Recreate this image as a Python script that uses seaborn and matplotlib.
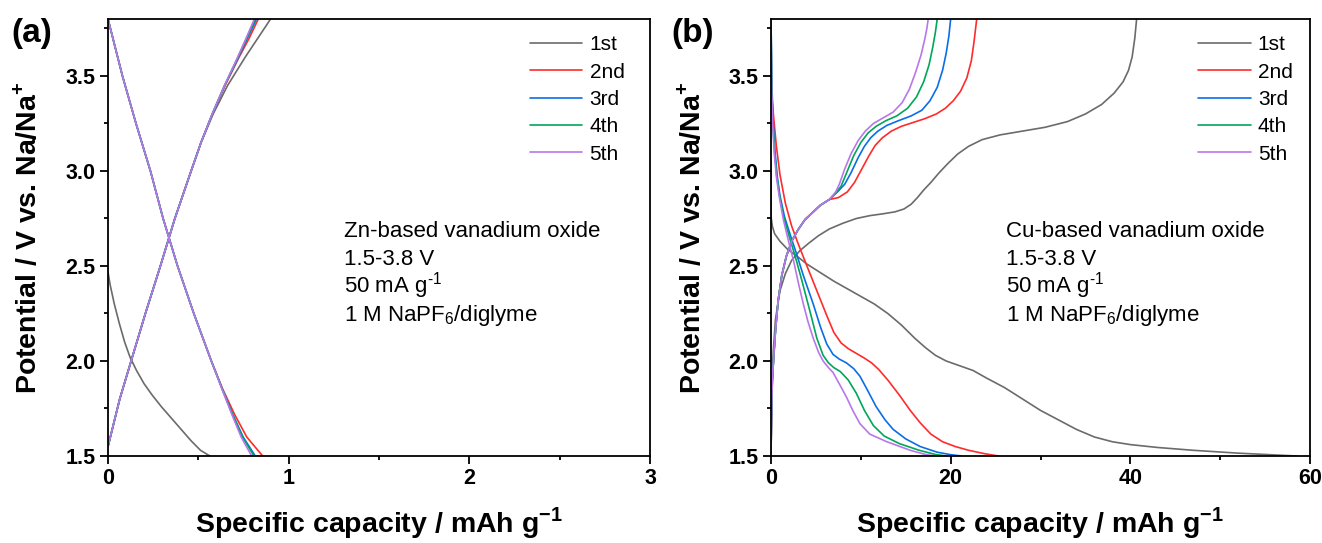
import matplotlib
matplotlib.use("Agg")
import matplotlib.pyplot as plt
from matplotlib.ticker import MultipleLocator
import pandas as pd
import seaborn as sns

sns.set_style("ticks")
plt.rcParams['font.family'] = ['Liberation Sans', 'DejaVu Sans']
plt.rcParams['mathtext.fontset'] = 'custom'
plt.rcParams['mathtext.rm'] = 'Liberation Sans'
plt.rcParams['mathtext.bf'] = 'Liberation Sans:bold'
for key in ['text.color', 'axes.labelcolor', 'xtick.color', 'ytick.color', 'axes.edgecolor']:
    plt.rcParams[key] = 'black'

cycles = ["1st", "2nd", "3rd", "4th", "5th"]
colors = ["#6b6b6b", "#ff2b2b", "#0a6ee6", "#00a65a", "#b877ea"]

# ---- panel (a): Zn-based vanadium oxide ----
# charge branches on a shared voltage grid
a_chg_v = [1.55, 1.80, 2.00, 2.25, 2.50, 2.75, 3.00, 3.15, 3.30, 3.45, 3.60, 3.70, 3.80]
a_chg_1 = [0, 0.065, 0.128, 0.207, 0.290, 0.370, 0.460, 0.515, 0.582, 0.662, 0.760, 0.830, 0.900]
a_chg_2 = [0, 0.065, 0.128, 0.207, 0.290, 0.370, 0.460, 0.515, 0.578, 0.648, 0.726, 0.782, 0.832]
a_chg_3 = [0, 0.065, 0.128, 0.207, 0.290, 0.370, 0.460, 0.515, 0.577, 0.646, 0.722, 0.772, 0.822]
a_chg_4 = [0, 0.065, 0.128, 0.207, 0.290, 0.370, 0.460, 0.515, 0.577, 0.645, 0.720, 0.768, 0.816]
a_chg_5 = [0, 0.065, 0.128, 0.207, 0.290, 0.370, 0.460, 0.515, 0.577, 0.645, 0.718, 0.765, 0.810]
# discharge branches, cycles 2-5
a_dis_v = [3.80, 3.50, 3.25, 3.00, 2.75, 2.50, 2.25, 2.00, 1.85, 1.72, 1.60, 1.50]
a_dis_2 = [0, 0.080, 0.155, 0.235, 0.305, 0.385, 0.475, 0.572, 0.636, 0.700, 0.768, 0.856]
a_dis_3 = [0, 0.080, 0.155, 0.235, 0.305, 0.385, 0.475, 0.572, 0.633, 0.690, 0.748, 0.815]
a_dis_4 = [0, 0.080, 0.155, 0.235, 0.305, 0.385, 0.475, 0.572, 0.633, 0.688, 0.744, 0.808]
a_dis_5 = [0, 0.080, 0.155, 0.235, 0.305, 0.385, 0.475, 0.572, 0.632, 0.685, 0.737, 0.795]
# first discharge
a_dis1_v = [2.47, 2.40, 2.30, 2.20, 2.10, 2.02, 1.95, 1.88, 1.82, 1.76, 1.70, 1.64, 1.58, 1.53, 1.50]
a_dis1_c = [0, 0.012, 0.035, 0.062, 0.092, 0.122, 0.158, 0.200, 0.245, 0.295, 0.350, 0.405, 0.460, 0.512, 0.564]

# ---- panel (b): Cu-based vanadium oxide ----
b_dis1_c = [0, 0, 0.15, 0.4, 1.0, 1.8, 2.8, 4.0, 5.5, 7.0, 8.5, 10.0, 11.5, 13.0, 14.5, 16.0, 17.2,
            18.3, 19.5, 21.0, 22.5, 24.0, 26.0, 28.0, 30.0, 32.0, 34.0, 36.0, 38.0, 40.0, 43.0,
            47.0, 52.0, 58.5]
b_dis1_v = [3.05, 2.76, 2.71, 2.67, 2.63, 2.59, 2.555, 2.51, 2.465, 2.42, 2.38, 2.34, 2.30, 2.25,
            2.19, 2.12, 2.07, 2.03, 2.00, 1.975, 1.95, 1.91, 1.86, 1.80, 1.74, 1.69, 1.64, 1.60,
            1.575, 1.56, 1.545, 1.53, 1.515, 1.50]
b_chg1_c = [0, 0.1, 0.25, 0.5, 1.0, 1.6, 2.3, 3.2, 4.2, 5.3, 6.5, 8.0, 9.5, 11.0, 12.5, 13.8, 14.8,
            15.6, 16.3, 17.0, 17.8, 18.7, 19.7, 20.8, 22.0, 23.5, 25.5, 28.0, 30.5, 33.0, 35.0,
            36.8, 38.2, 39.2, 39.8, 40.2, 40.5, 40.7]
b_chg1_v = [1.50, 1.85, 2.05, 2.22, 2.37, 2.46, 2.53, 2.58, 2.62, 2.66, 2.695, 2.725, 2.75, 2.765,
            2.775, 2.785, 2.80, 2.825, 2.86, 2.90, 2.94, 2.99, 3.04, 3.09, 3.13, 3.165, 3.19, 3.21,
            3.23, 3.26, 3.30, 3.35, 3.41, 3.47, 3.53, 3.60, 3.70, 3.80]

b_dis2_c = [0, 0.15, 0.3, 0.6, 1.0, 1.6, 2.3, 3.0, 4.0, 5.1, 6.2, 7.0, 7.8, 8.6, 9.5, 10.4, 11.2,
            12.0, 13.0, 14.3, 15.5, 16.6, 17.8, 19.1, 20.5, 22.0, 23.8, 25.3]
b_dis2_v = [3.45, 3.36, 3.28, 3.13, 2.98, 2.83, 2.71, 2.62, 2.50, 2.37, 2.24, 2.15, 2.095, 2.065,
            2.04, 2.015, 1.99, 1.955, 1.90, 1.82, 1.74, 1.675, 1.615, 1.575, 1.55, 1.53, 1.512, 1.50]
b_dis3_c = [0, 0.1, 0.25, 0.45, 0.7, 1.0, 1.5, 2.1, 2.8, 3.6, 4.7, 5.5, 6.2, 6.9, 7.6, 8.4, 9.2,
            9.9, 10.7, 11.7, 12.7, 13.6, 15.0, 16.6, 18.5, 20.0, 21.2]
b_dis3_v = [3.80, 3.45, 3.25, 3.10, 2.97, 2.87, 2.76, 2.67, 2.57, 2.45, 2.30, 2.18, 2.09, 2.035,
            2.01, 1.99, 1.96, 1.92, 1.85, 1.76, 1.69, 1.64, 1.59, 1.55, 1.52, 1.507, 1.50]
b_dis4_c = [0, 0.08, 0.2, 0.4, 0.65, 0.95, 1.4, 2.0, 2.7, 3.4, 4.4, 5.1, 5.8, 6.4, 7.0, 7.7, 8.6,
            9.5, 10.4, 11.4, 12.6, 14.3, 16.5, 18.3, 19.5]
b_dis4_v = [3.80, 3.45, 3.25, 3.10, 2.97, 2.87, 2.76, 2.66, 2.55, 2.43, 2.25, 2.12, 2.03, 1.99,
            1.965, 1.945, 1.90, 1.83, 1.74, 1.66, 1.605, 1.565, 1.53, 1.508, 1.50]
b_dis5_c = [0, 0.07, 0.18, 0.35, 0.6, 0.9, 1.35, 1.9, 2.5, 3.1, 3.6, 4.1, 4.7, 5.3, 5.8, 6.4, 6.9,
            7.6, 8.4, 9.1, 9.9, 11.0, 12.9, 15.5, 17.2, 18.2]
b_dis5_v = [3.80, 3.45, 3.25, 3.10, 2.97, 2.87, 2.75, 2.64, 2.53, 2.40, 2.30, 2.21, 2.12, 2.045,
            2.00, 1.965, 1.94, 1.88, 1.81, 1.74, 1.67, 1.615, 1.575, 1.53, 1.508, 1.50]

# charge branches 2-5 share the steep start, then split
b_chg_low_c = [0, 0.05, 0.15, 0.3, 0.5, 0.8, 1.2, 1.7, 2.3, 3.0, 3.8, 4.6, 5.5, 6.5]
b_chg_low_v = [1.50, 1.70, 1.90, 2.02, 2.16, 2.32, 2.45, 2.55, 2.63, 2.69, 2.745, 2.78, 2.82, 2.85]
b_chg2_c = [7.5, 8.5, 9.3, 10.1, 10.9, 11.6, 12.4, 13.4, 14.5, 15.8, 17.1, 18.4, 19.4, 20.3, 21.1,
            21.8, 22.3, 22.6, 22.9]
b_chg2_v = [2.86, 2.89, 2.94, 3.01, 3.08, 3.135, 3.175, 3.21, 3.235, 3.255, 3.275, 3.30, 3.33, 3.37,
            3.42, 3.49, 3.58, 3.68, 3.80]
b_chg3_c = [7.4, 8.2, 8.9, 9.7, 10.4, 11.1, 11.9, 12.9, 14.2, 15.6, 16.8, 17.7, 18.5, 19.1, 19.5,
            19.8, 20.0]
b_chg3_v = [2.89, 2.93, 2.99, 3.07, 3.13, 3.175, 3.21, 3.24, 3.265, 3.29, 3.32, 3.37, 3.44, 3.53,
            3.62, 3.71, 3.80]
b_chg4_c = [7.3, 7.8, 8.5, 9.2, 10.0, 10.8, 11.7, 12.8, 14.0, 15.2, 16.2, 17.0, 17.6, 18.0, 18.3, 18.5]
b_chg4_v = [2.89, 2.92, 3.00, 3.08, 3.15, 3.20, 3.235, 3.265, 3.29, 3.33, 3.39, 3.47, 3.56, 3.65,
            3.73, 3.80]
b_chg5_c = [7.2, 7.6, 8.2, 8.9, 9.7, 10.5, 11.4, 12.5, 13.6, 14.6, 15.4, 16.1, 16.7, 17.1, 17.35, 17.5]
b_chg5_v = [2.89, 2.93, 3.01, 3.09, 3.16, 3.21, 3.25, 3.28, 3.31, 3.36, 3.43, 3.52, 3.61, 3.69,
            3.75, 3.80]

note_lines = ["1.5-3.8 V", "50 mA g$^{\\text{-1}}$", "1 M NaPF$_6$/diglyme"]


def frame(parts):
    rows = []
    for cyc, branch, cap, v in parts:
        for c, vv in zip(cap, v):
            rows.append((c, vv, cyc, cyc + branch))
    return pd.DataFrame(rows, columns=["cap", "V", "cycle", "unit"])


df_a = frame([
    ("1st", "d", a_dis1_c, a_dis1_v), ("1st", "c", a_chg_1, a_chg_v),
    ("2nd", "d", a_dis_2, a_dis_v), ("2nd", "c", a_chg_2, a_chg_v),
    ("3rd", "d", a_dis_3, a_dis_v), ("3rd", "c", a_chg_3, a_chg_v),
    ("4th", "d", a_dis_4, a_dis_v), ("4th", "c", a_chg_4, a_chg_v),
    ("5th", "d", a_dis_5, a_dis_v), ("5th", "c", a_chg_5, a_chg_v),
])
df_b = frame([
    ("1st", "d", b_dis1_c, b_dis1_v), ("1st", "c", b_chg1_c, b_chg1_v),
    ("2nd", "d", b_dis2_c, b_dis2_v), ("2nd", "c", b_chg_low_c + b_chg2_c, b_chg_low_v + b_chg2_v),
    ("3rd", "d", b_dis3_c, b_dis3_v), ("3rd", "c", b_chg_low_c + b_chg3_c, b_chg_low_v + b_chg3_v),
    ("4th", "d", b_dis4_c, b_dis4_v), ("4th", "c", b_chg_low_c + b_chg4_c, b_chg_low_v + b_chg4_v),
    ("5th", "d", b_dis5_c, b_dis5_v), ("5th", "c", b_chg_low_c + b_chg5_c, b_chg_low_v + b_chg5_v),
])

fig = plt.figure(figsize=(13.22, 5.43), dpi=100)
ax_a = fig.add_axes([108 / 1322, 87 / 543, 542 / 1322, 437 / 543])
ax_b = fig.add_axes([771 / 1322, 87 / 543, 539 / 1322, 437 / 543])

panels = [
    (ax_a, df_a, (0, 3), 1, 0.5, "Zn-based vanadium oxide", 1.306, 0.779),
    (ax_b, df_b, (0, 60), 20, 10, "Cu-based vanadium oxide", 26.2, 0.793),
]
for ax, df, xlim, xmaj, xmin, note, note_x, leg_x in panels:
    sns.lineplot(data=df, x="cap", y="V", hue="cycle", units="unit", estimator=None,
                 sort=False, palette=colors, hue_order=cycles, lw=1.2, ax=ax)
    ax.set_xlim(*xlim)
    ax.set_ylim(1.5, 3.8)
    ax.xaxis.set_major_locator(MultipleLocator(xmaj))
    ax.xaxis.set_minor_locator(MultipleLocator(xmin))
    ax.yaxis.set_major_locator(MultipleLocator(0.5))
    ax.yaxis.set_minor_locator(MultipleLocator(0.25))
    ax.tick_params(which="major", direction="out", length=5.5, width=1.3, labelsize=15.5, pad=3.5)
    ax.tick_params(which="minor", direction="out", length=3, width=1.3)
    for lab in ax.get_xticklabels() + ax.get_yticklabels():
        lab.set_fontweight("bold")
    for sp in ax.spines.values():
        sp.set_linewidth(1.3)
    ax.set_xlabel("Specific capacity / mAh g$^{\\mathbf{-1}}$", fontsize=20.5, fontweight="bold")
    ax.set_ylabel("Potential / V vs. Na/Na$^{\\mathbf{+}}$", fontsize=20.5, fontweight="bold")
    ax.xaxis.set_label_coords(0.5, -0.112)
    ax.yaxis.set_label_coords(-0.121, 0.5)
    leg = ax.legend(loc="upper left", bbox_to_anchor=(leg_x, 0.963), frameon=False, fontsize=15,
                    handlelength=2.5, handletextpad=0.35, labelspacing=0.40, borderpad=0,
                    borderaxespad=0)
    for line in leg.get_lines():
        line.set_linewidth(1.2)
    for i, s in enumerate([note] + note_lines):
        ax.text(note_x, 2.653 - i * 0.147, s, fontsize=16, va="baseline", ha="left")

fig.text(0.0083, 1 - 42 / 543, "(a)", fontsize=24, fontweight="bold", va="baseline")
fig.text(0.508, 1 - 42 / 543, "(b)", fontsize=24, fontweight="bold", va="baseline")

fig.savefig("out.png", dpi=100)
